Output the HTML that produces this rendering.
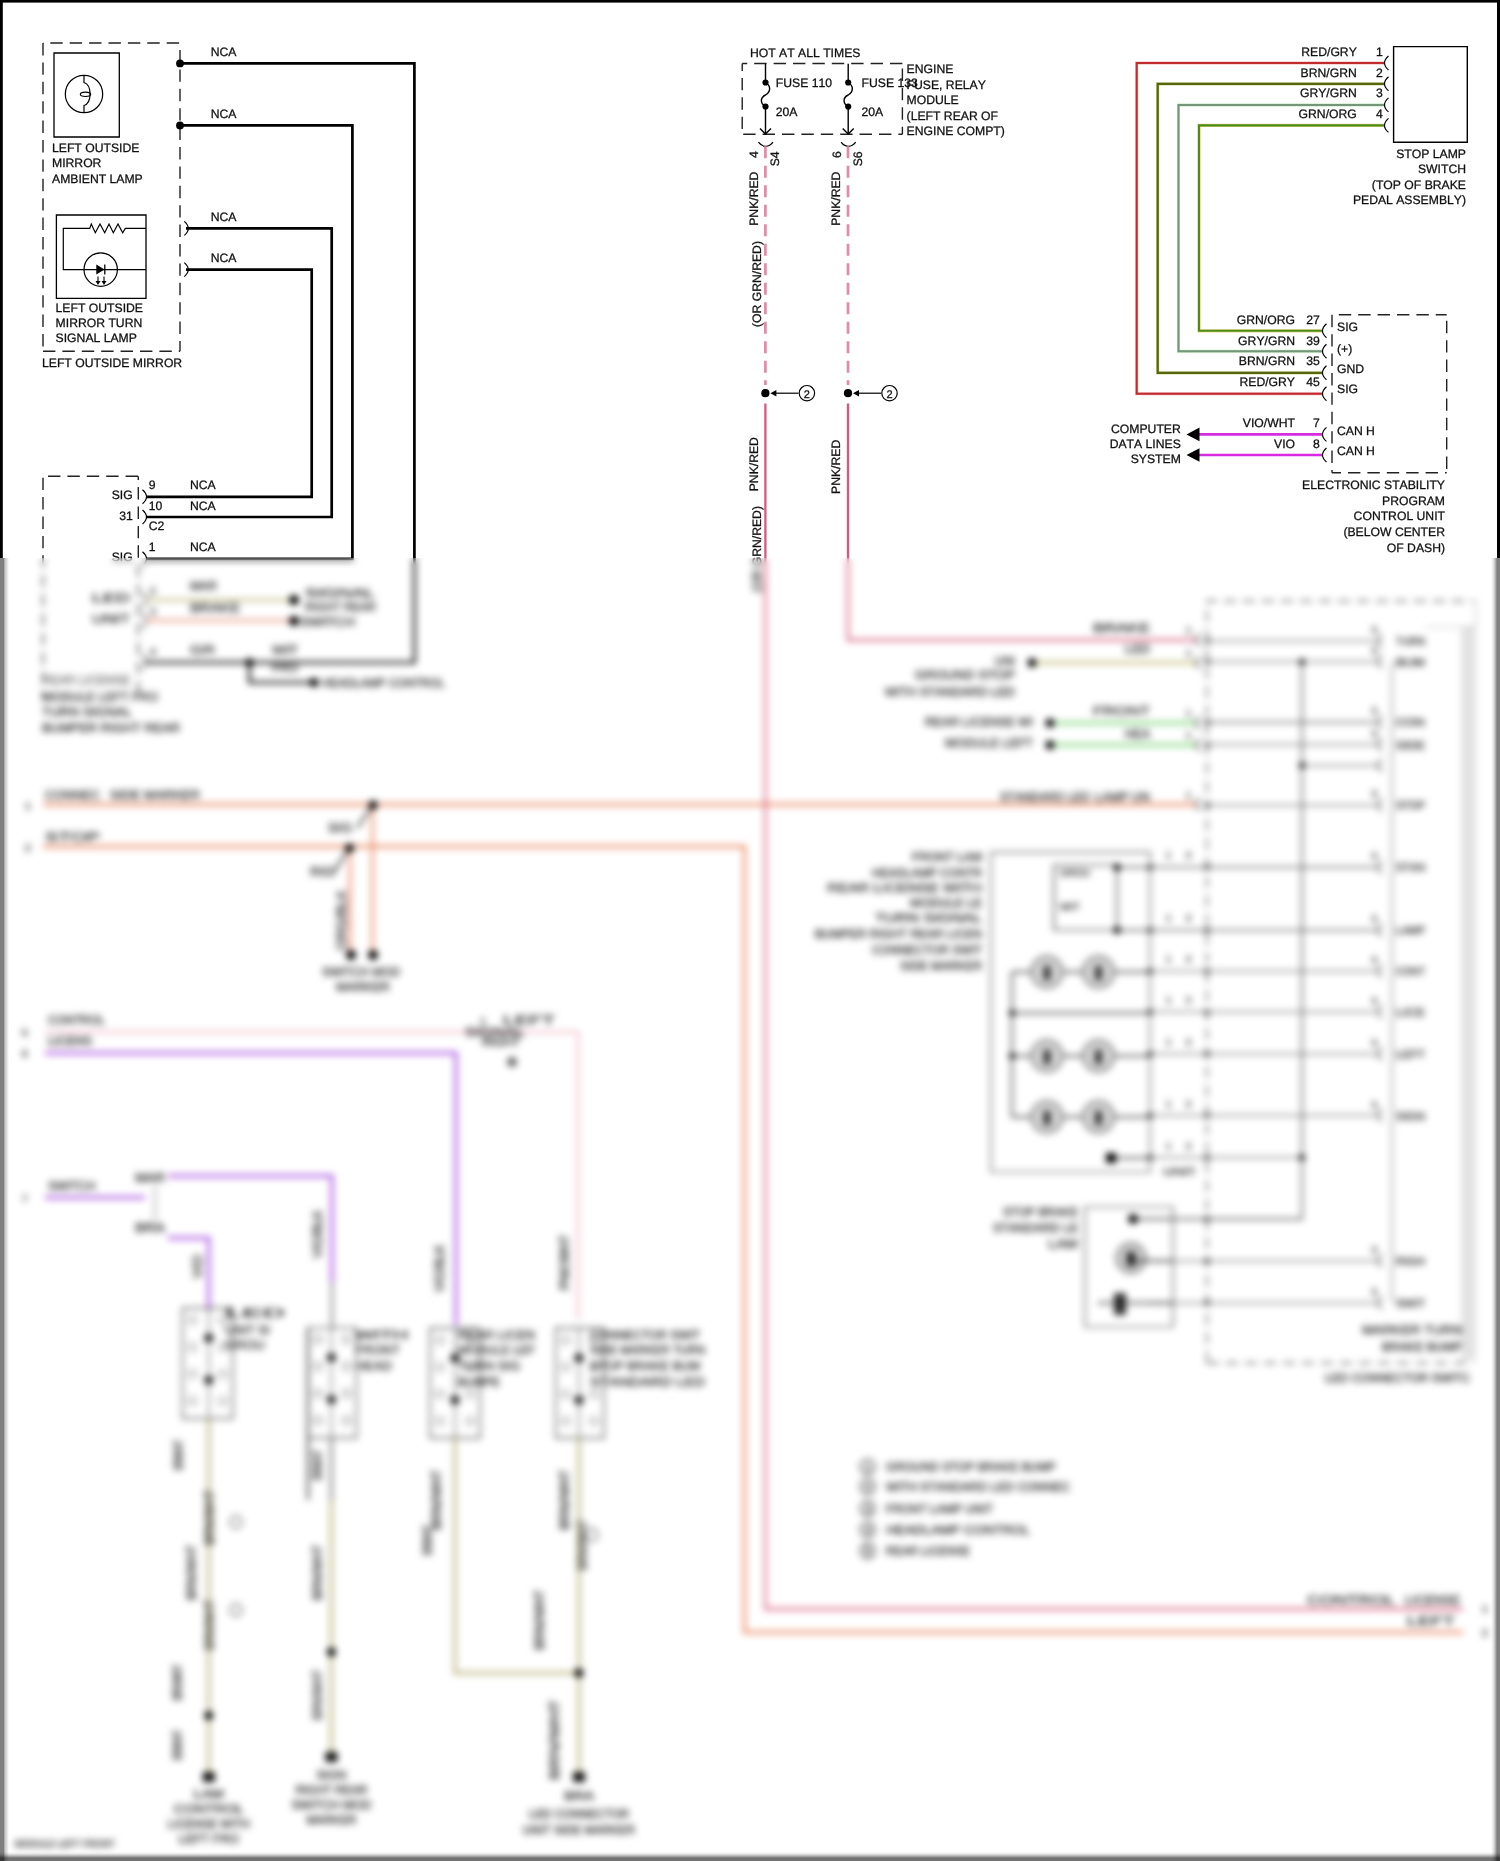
<!DOCTYPE html><html><head><meta charset="utf-8"><style>html,body{margin:0;padding:0;background:#fff;width:1500px;height:1861px;overflow:hidden}svg{position:absolute;left:0;top:0;will-change:transform}text{font-family:"Liberation Sans",sans-serif;font-kerning:none;text-rendering:geometricPrecision;stroke:#111;stroke-width:0.28px}#blur{position:absolute;left:0;top:558px;width:1500px;height:1303px;backdrop-filter:blur(3.5px);-webkit-backdrop-filter:blur(3.5px)}</style></head><body>
<svg width="1500" height="1861" viewBox="0 0 1500 1861">
<rect width="1500" height="1861" fill="#fff"/>
<path d="M43,43 L43,351.3" stroke="#222" stroke-width="1.4" fill="none" stroke-dasharray="12.4 7.0" stroke-dashoffset="0.0"/>
<path d="M43,43 L180,43" stroke="#222" stroke-width="1.4" fill="none" stroke-dasharray="12.4 7.0" stroke-dashoffset="12.1"/>
<path d="M180,43 L180,351.3" stroke="#222" stroke-width="1.4" fill="none" stroke-dasharray="12.4 7.0" stroke-dashoffset="12.4"/>
<path d="M43,351.3 L180,351.3" stroke="#222" stroke-width="1.4" fill="none" stroke-dasharray="12.4 7.0" stroke-dashoffset="0.0"/>
<path d="M54,53 H119.3 V137 H54 Z" stroke="#000" stroke-width="1.3" fill="none" />
<circle cx="84" cy="94" r="18.7" stroke="#000" stroke-width="1.2" fill="none"/>
<path d="M84,75.3 V82.5 C92,85 92,103 84,105.5 V112.7" stroke="#000" stroke-width="1.2" fill="none" />
<ellipse cx="85.5" cy="94.3" rx="5.2" ry="2.2" stroke="#000" stroke-width="1.1" fill="none"/>
<text x="52" y="152.0" text-anchor="start" font-size="12.2" fill="#111" >LEFT OUTSIDE</text>
<text x="52" y="167.35" text-anchor="start" font-size="12.2" fill="#111" >MIRROR</text>
<text x="52" y="182.7" text-anchor="start" font-size="12.2" fill="#111" >AMBIENT LAMP</text>
<path d="M56.4,215 H146 V298.4 H56.4 Z" stroke="#000" stroke-width="1.3" fill="none" />
<path d="M146,228.4 H125.3 L122.7,232.7 L118,224 L113.3,232.7 L109,224 L104.7,232.7 L100,224 L95.3,232.7 L91.3,224 L89.7,228.4 H63.3 V269.6 H146" stroke="#000" stroke-width="1.2" fill="none" />
<circle cx="100.7" cy="269.6" r="16.7" stroke="#000" stroke-width="1.2" fill="none"/>
<path d="M96.3,264.6 V274.6 L104.5,269.6 Z" fill="#000"/>
<path d="M104.8,264.6 V274.6" stroke="#000" stroke-width="1.3" fill="none" />
<path d="M98,276.5 V282" stroke="#000" stroke-width="1.1" fill="none" />
<path d="M95.5,281 H100.5 L98,285 Z" fill="#000"/>
<path d="M104,276.5 V282" stroke="#000" stroke-width="1.1" fill="none" />
<path d="M101.5,281 H106.5 L104,285 Z" fill="#000"/>
<text x="55.6" y="311.6" text-anchor="start" font-size="12.2" fill="#111" >LEFT OUTSIDE</text>
<text x="55.6" y="326.95" text-anchor="start" font-size="12.2" fill="#111" >MIRROR TURN</text>
<text x="55.6" y="342.3" text-anchor="start" font-size="12.2" fill="#111" >SIGNAL LAMP</text>
<text x="42" y="367.3" text-anchor="start" font-size="12.2" fill="#111" >LEFT OUTSIDE MIRROR</text>
<circle cx="180" cy="63.4" r="3.9" fill="#000"/>
<circle cx="180" cy="125.4" r="3.9" fill="#000"/>
<path d="M184.3,221.4 Q192.3,228.4 184.3,235.4" stroke="#000" stroke-width="1.15" fill="none" />
<path d="M184.3,262.6 Q192.3,269.6 184.3,276.6" stroke="#000" stroke-width="1.15" fill="none" />
<text x="210.7" y="56" text-anchor="start" font-size="12.2" fill="#111" >NCA</text>
<text x="210.7" y="118" text-anchor="start" font-size="12.2" fill="#111" >NCA</text>
<text x="210.7" y="221" text-anchor="start" font-size="12.2" fill="#111" >NCA</text>
<text x="210.7" y="262" text-anchor="start" font-size="12.2" fill="#111" >NCA</text>
<path d="M180,63.4 H414.4 V662.5 H146" stroke="#000" stroke-width="2.7" fill="none" />
<path d="M180,125.4 H352.4 V558.8 H146" stroke="#000" stroke-width="2.7" fill="none" />
<path d="M186,228.4 H331.7 V517 H146" stroke="#000" stroke-width="2.7" fill="none" />
<path d="M186,269.6 H311.7 V496.8 H146" stroke="#000" stroke-width="2.7" fill="none" />
<path d="M43,476.3 L43,700" stroke="#222" stroke-width="1.4" fill="none" stroke-dasharray="12.4 7.0" stroke-dashoffset="18.0"/>
<path d="M43,476.3 L138.3,476.3" stroke="#222" stroke-width="1.4" fill="none" stroke-dasharray="12.4 7.0" stroke-dashoffset="14.4"/>
<path d="M138.3,476.3 L138.3,700" stroke="#222" stroke-width="1.4" fill="none" stroke-dasharray="12.4 7.0" stroke-dashoffset="8.6"/>
<path d="M142.5,489.8 Q150.5,496.8 142.5,503.8" stroke="#000" stroke-width="1.15" fill="none" />
<path d="M142.5,510.0 Q150.5,517 142.5,524.0" stroke="#000" stroke-width="1.15" fill="none" />
<path d="M142.5,551.8 Q150.5,558.8 142.5,565.8" stroke="#000" stroke-width="1.15" fill="none" />
<text x="132.7" y="499" text-anchor="end" font-size="12.2" fill="#111" >SIG</text>
<text x="132.7" y="519.7" text-anchor="end" font-size="12.2" fill="#111" >31</text>
<text x="132.7" y="561" text-anchor="end" font-size="12.2" fill="#111" >SIG</text>
<text x="148.7" y="489" text-anchor="start" font-size="12.2" fill="#111" >9</text>
<text x="190" y="489" text-anchor="start" font-size="12.2" fill="#111" >NCA</text>
<text x="148.7" y="509.7" text-anchor="start" font-size="12.2" fill="#111" >10</text>
<text x="190" y="509.7" text-anchor="start" font-size="12.2" fill="#111" >NCA</text>
<text x="148.7" y="530.3" text-anchor="start" font-size="12.2" fill="#111" >C2</text>
<text x="148.7" y="551.4" text-anchor="start" font-size="12.2" fill="#111" >1</text>
<text x="190" y="551.4" text-anchor="start" font-size="12.2" fill="#111" >NCA</text>
<text x="750" y="56.5" text-anchor="start" font-size="12.2" fill="#111" >HOT AT ALL TIMES</text>
<path d="M742.2,63.5 L742.2,134.3" stroke="#222" stroke-width="1.4" fill="none" stroke-dasharray="12.4 7.0" stroke-dashoffset="5.0"/>
<path d="M742.2,63.5 L902.4,63.5" stroke="#222" stroke-width="1.4" fill="none" stroke-dasharray="12.4 7.0" stroke-dashoffset="7.4"/>
<path d="M742.2,134.3 L902.4,134.3" stroke="#222" stroke-width="1.4" fill="none" stroke-dasharray="12.4 7.0" stroke-dashoffset="18.4"/>
<path d="M902.4,63.5 L902.4,134.3" stroke="#222" stroke-width="1.4" fill="none" stroke-dasharray="12.4 7.0" stroke-dashoffset="14.4"/>
<path d="M765.5,63.7 V82.5 C771.5,86 770.5,92 765.5,95 C759.5,98 760.5,104 765.5,106.5 V134" stroke="#000" stroke-width="1.4" fill="none" />
<circle cx="765.5" cy="82.5" r="3.1" fill="#000"/>
<circle cx="765.5" cy="106.5" r="3.1" fill="#000"/>
<path d="M760.0,128.5 L765.5,134 L771.0,128.5" stroke="#000" stroke-width="1.4" fill="none" />
<path d="M758.5,142.2 Q761.5,146.5 765.5,146.3 Q769.5,146.5 773.0,142.2" stroke="#000" stroke-width="1.3" fill="none" />
<path d="M848.2,63.7 V82.5 C854.2,86 853.2,92 848.2,95 C842.2,98 843.2,104 848.2,106.5 V134" stroke="#000" stroke-width="1.4" fill="none" />
<circle cx="848.2" cy="82.5" r="3.1" fill="#000"/>
<circle cx="848.2" cy="106.5" r="3.1" fill="#000"/>
<path d="M842.7,128.5 L848.2,134 L853.7,128.5" stroke="#000" stroke-width="1.4" fill="none" />
<path d="M841.2,142.2 Q844.2,146.5 848.2,146.3 Q852.2,146.5 855.7,142.2" stroke="#000" stroke-width="1.3" fill="none" />
<text x="775.8" y="86.5" text-anchor="start" font-size="12.2" fill="#111" >FUSE 110</text>
<text x="775.8" y="115.7" text-anchor="start" font-size="12.2" fill="#111" >20A</text>
<text x="861.5" y="87.2" text-anchor="start" font-size="12.2" fill="#111" >FUSE 133</text>
<text x="861.5" y="115.7" text-anchor="start" font-size="12.2" fill="#111" >20A</text>
<text x="906.6" y="73.4" text-anchor="start" font-size="12.2" fill="#111" >ENGINE</text>
<text x="906.6" y="88.92" text-anchor="start" font-size="12.2" fill="#111" >FUSE, RELAY</text>
<text x="906.6" y="104.44" text-anchor="start" font-size="12.2" fill="#111" >MODULE</text>
<text x="906.6" y="119.96" text-anchor="start" font-size="12.2" fill="#111" >(LEFT REAR OF</text>
<text x="906.6" y="135.48" text-anchor="start" font-size="12.2" fill="#111" >ENGINE COMPT)</text>
<text transform="translate(757.8,158) rotate(-90)" text-anchor="start" font-size="12.2" fill="#111">4</text>
<text transform="translate(779.4,166.3) rotate(-90)" text-anchor="start" font-size="12.2" fill="#111">S4</text>
<text transform="translate(840.8,158) rotate(-90)" text-anchor="start" font-size="12.2" fill="#111">6</text>
<text transform="translate(861.8,166.3) rotate(-90)" text-anchor="start" font-size="12.2" fill="#111">S6</text>
<path d="M765.4,146.2 V385" stroke="#e28aa6" stroke-width="2.7" fill="none" stroke-dasharray="12.1 7.4"/>
<circle cx="765.4" cy="393.2" r="4.1" fill="#000"/>
<path d="M798.4,393.2 H772.4" stroke="#000" stroke-width="1.2" fill="none" />
<path d="M770.4,393.2 L776.4,390 L776.4,396.4 Z" fill="#000"/>
<circle cx="806.9" cy="393.2" r="7.7" stroke="#000" stroke-width="1.2" fill="none"/>
<text x="806.9" y="397.6" text-anchor="middle" font-size="11" fill="#111" >2</text>
<path d="M848,146.2 V385" stroke="#e28aa6" stroke-width="2.7" fill="none" stroke-dasharray="12.1 7.4"/>
<circle cx="848" cy="393.2" r="4.1" fill="#000"/>
<path d="M881,393.2 H855" stroke="#000" stroke-width="1.2" fill="none" />
<path d="M853,393.2 L859,390 L859,396.4 Z" fill="#000"/>
<circle cx="889.5" cy="393.2" r="7.7" stroke="#000" stroke-width="1.2" fill="none"/>
<text x="889.5" y="397.6" text-anchor="middle" font-size="11" fill="#111" >2</text>
<text transform="translate(758.2,225.8) rotate(-90)" text-anchor="start" font-size="12.2" fill="#111">PNK/RED</text>
<text transform="translate(761.2,327) rotate(-90)" text-anchor="start" font-size="12.2" fill="#111">(OR GRN/RED)</text>
<text transform="translate(758.2,491.3) rotate(-90)" text-anchor="start" font-size="12.2" fill="#111">PNK/RED</text>
<text transform="translate(761.2,592) rotate(-90)" text-anchor="start" font-size="12.2" fill="#111">(OR GRN/RED)</text>
<text transform="translate(839.7,225.8) rotate(-90)" text-anchor="start" font-size="12.2" fill="#111">PNK/RED</text>
<text transform="translate(839.7,494) rotate(-90)" text-anchor="start" font-size="12.2" fill="#111">PNK/RED</text>
<path d="M1393.6,46.6 H1467.3 V142.3 H1393.6 Z" stroke="#000" stroke-width="1.4" fill="none" />
<path d="M1385,63 H1136.7 V393.8 H1322" stroke="#f2b0b0" stroke-width="3.0" fill="none" />
<path d="M1385,63 H1136.7 V393.8 H1322" stroke="#c02c2e" stroke-width="2.0" fill="none" />
<path d="M1385,83.8 H1157.7 V372.8 H1322" stroke="#d2d898" stroke-width="3.2" fill="none" />
<path d="M1385,83.8 H1157.7 V372.8 H1322" stroke="#56660e" stroke-width="2.2" fill="none" />
<path d="M1385,104.9 H1178.5 V351.2 H1322" stroke="#bfe8b8" stroke-width="3.0" fill="none" />
<path d="M1385,104.9 H1178.5 V351.2 H1322" stroke="#74957a" stroke-width="2.0" fill="none" />
<path d="M1385,125.4 H1199 V330.8 H1322" stroke="#ecd890" stroke-width="3.2" fill="none" />
<path d="M1385,125.4 H1199 V330.8 H1322" stroke="#4c8c14" stroke-width="2.1" fill="none" />
<path d="M1388.5,56.0 Q1380.5,63 1388.5,70.0" stroke="#000" stroke-width="1.15" fill="none" />
<path d="M1388.5,76.8 Q1380.5,83.8 1388.5,90.8" stroke="#000" stroke-width="1.15" fill="none" />
<path d="M1388.5,97.9 Q1380.5,104.9 1388.5,111.9" stroke="#000" stroke-width="1.15" fill="none" />
<path d="M1388.5,118.4 Q1380.5,125.4 1388.5,132.4" stroke="#000" stroke-width="1.15" fill="none" />
<text x="1356.8" y="56.3" text-anchor="end" font-size="12.2" fill="#111" >RED/GRY</text>
<text x="1382.7" y="56.3" text-anchor="end" font-size="12.2" fill="#111" >1</text>
<text x="1356.8" y="76.6" text-anchor="end" font-size="12.2" fill="#111" >BRN/GRN</text>
<text x="1382.7" y="76.6" text-anchor="end" font-size="12.2" fill="#111" >2</text>
<text x="1356.8" y="97" text-anchor="end" font-size="12.2" fill="#111" >GRY/GRN</text>
<text x="1382.7" y="97" text-anchor="end" font-size="12.2" fill="#111" >3</text>
<text x="1356.8" y="117.7" text-anchor="end" font-size="12.2" fill="#111" >GRN/ORG</text>
<text x="1382.7" y="117.7" text-anchor="end" font-size="12.2" fill="#111" >4</text>
<text x="1466" y="157.5" text-anchor="end" font-size="12.2" fill="#111" >STOP LAMP</text>
<text x="1466" y="173.1" text-anchor="end" font-size="12.2" fill="#111" >SWITCH</text>
<text x="1466" y="188.7" text-anchor="end" font-size="12.2" fill="#111" >(TOP OF BRAKE</text>
<text x="1466" y="204.3" text-anchor="end" font-size="12.2" fill="#111" >PEDAL ASSEMBLY)</text>
<path d="M1332,314.8 L1332,472.8" stroke="#222" stroke-width="1.4" fill="none" stroke-dasharray="12.4 7.0" stroke-dashoffset="0.0"/>
<path d="M1332,314.8 L1446.7,314.8" stroke="#222" stroke-width="1.4" fill="none" stroke-dasharray="12.4 7.0" stroke-dashoffset="12.6"/>
<path d="M1446.7,314.8 L1446.7,472.8" stroke="#222" stroke-width="1.4" fill="none" stroke-dasharray="12.4 7.0" stroke-dashoffset="13.4"/>
<path d="M1332,472.8 L1446.7,472.8" stroke="#222" stroke-width="1.4" fill="none" stroke-dasharray="12.4 7.0" stroke-dashoffset="3.4"/>
<path d="M1199,434.4 H1322" stroke="#d82ae0" stroke-width="2.6" fill="none" />
<path d="M1199,455 H1322" stroke="#d82ae0" stroke-width="2.6" fill="none" />
<path d="M1186.5,434.4 L1199.5,427.6 L1199.5,441.2 Z" fill="#000"/>
<path d="M1186.5,455 L1199.5,448.2 L1199.5,461.8 Z" fill="#000"/>
<path d="M1326.5,323.8 Q1318.5,330.8 1326.5,337.8" stroke="#000" stroke-width="1.15" fill="none" />
<path d="M1326.5,344.2 Q1318.5,351.2 1326.5,358.2" stroke="#000" stroke-width="1.15" fill="none" />
<path d="M1326.5,365.8 Q1318.5,372.8 1326.5,379.8" stroke="#000" stroke-width="1.15" fill="none" />
<path d="M1326.5,386.8 Q1318.5,393.8 1326.5,400.8" stroke="#000" stroke-width="1.15" fill="none" />
<path d="M1326.5,427.4 Q1318.5,434.4 1326.5,441.4" stroke="#000" stroke-width="1.15" fill="none" />
<path d="M1326.5,448.0 Q1318.5,455 1326.5,462.0" stroke="#000" stroke-width="1.15" fill="none" />
<text x="1295" y="324.2" text-anchor="end" font-size="12.2" fill="#111" >GRN/ORG</text>
<text x="1319.8" y="324.2" text-anchor="end" font-size="12.2" fill="#111" >27</text>
<text x="1295" y="344.6" text-anchor="end" font-size="12.2" fill="#111" >GRY/GRN</text>
<text x="1319.8" y="344.6" text-anchor="end" font-size="12.2" fill="#111" >39</text>
<text x="1295" y="365" text-anchor="end" font-size="12.2" fill="#111" >BRN/GRN</text>
<text x="1319.8" y="365" text-anchor="end" font-size="12.2" fill="#111" >35</text>
<text x="1295" y="386" text-anchor="end" font-size="12.2" fill="#111" >RED/GRY</text>
<text x="1319.8" y="386" text-anchor="end" font-size="12.2" fill="#111" >45</text>
<text x="1295" y="427.4" text-anchor="end" font-size="12.2" fill="#111" >VIO/WHT</text>
<text x="1319.8" y="427.4" text-anchor="end" font-size="12.2" fill="#111" >7</text>
<text x="1295" y="447.9" text-anchor="end" font-size="12.2" fill="#111" >VIO</text>
<text x="1319.8" y="447.9" text-anchor="end" font-size="12.2" fill="#111" >8</text>
<text x="1337" y="330.8" text-anchor="start" font-size="12.2" fill="#111" >SIG</text>
<text x="1337" y="353.2" text-anchor="start" font-size="12.2" fill="#111" >(+)</text>
<text x="1337" y="372.8" text-anchor="start" font-size="12.2" fill="#111" >GND</text>
<text x="1337" y="393.2" text-anchor="start" font-size="12.2" fill="#111" >SIG</text>
<text x="1337" y="434.6" text-anchor="start" font-size="12.2" fill="#111" >CAN H</text>
<text x="1337" y="455" text-anchor="start" font-size="12.2" fill="#111" >CAN H</text>
<text x="1180.8" y="432.5" text-anchor="end" font-size="12.2" fill="#111" >COMPUTER</text>
<text x="1180.8" y="447.9" text-anchor="end" font-size="12.2" fill="#111" >DATA LINES</text>
<text x="1180.8" y="463.3" text-anchor="end" font-size="12.2" fill="#111" >SYSTEM</text>
<text x="1445" y="489.3" text-anchor="end" font-size="12.2" fill="#111" >ELECTRONIC STABILITY</text>
<text x="1445" y="504.85" text-anchor="end" font-size="12.2" fill="#111" >PROGRAM</text>
<text x="1445" y="520.4" text-anchor="end" font-size="12.2" fill="#111" >CONTROL UNIT</text>
<text x="1445" y="535.95" text-anchor="end" font-size="12.2" fill="#111" >(BELOW CENTER</text>
<text x="1445" y="551.5" text-anchor="end" font-size="12.2" fill="#111" >OF DASH)</text>
<path d="M142.5,593.0 Q150.5,600 142.5,607.0" stroke="#000" stroke-width="1.15" fill="none" />
<path d="M142.5,613.5 Q150.5,620.5 142.5,627.5" stroke="#000" stroke-width="1.15" fill="none" />
<path d="M142.5,654.5 Q150.5,661.5 142.5,668.5" stroke="#000" stroke-width="1.15" fill="none" />
<path d="M146,600 H294" stroke="#c9c497" stroke-width="3.2" fill="none" />
<path d="M146,620.5 H294" stroke="#eaa592" stroke-width="3.2" fill="none" />
<circle cx="294" cy="600" r="5" fill="#000"/>
<circle cx="294" cy="621" r="5" fill="#000"/>
<text x="305" y="597" font-size="12.2" fill="#111" textLength="70" lengthAdjust="spacingAndGlyphs">SIGNAL</text>
<text x="305" y="611" font-size="12.2" fill="#111" textLength="71" lengthAdjust="spacingAndGlyphs">RIGHT REAR</text>
<text x="300" y="626" font-size="12.2" fill="#111" textLength="55" lengthAdjust="spacingAndGlyphs">SWITCH</text>
<text x="190" y="590" font-size="12.2" fill="#111" textLength="27" lengthAdjust="spacingAndGlyphs">MAR</text>
<text x="190" y="612" font-size="12.2" fill="#111" textLength="50" lengthAdjust="spacingAndGlyphs">BRAKE</text>
<text x="92" y="602" font-size="12.2" fill="#111" textLength="38" lengthAdjust="spacingAndGlyphs">LED</text>
<text x="92" y="623" font-size="12.2" fill="#111" textLength="38" lengthAdjust="spacingAndGlyphs">UNIT</text>
<text x="150" y="594" text-anchor="start" font-size="10" fill="#111" >2</text>
<text x="150" y="615" text-anchor="start" font-size="10" fill="#111" >3</text>
<text x="150" y="655" text-anchor="start" font-size="10" fill="#111" >4</text>
<text x="190" y="654" font-size="12.2" fill="#111" textLength="25" lengthAdjust="spacingAndGlyphs">GR</text>
<text x="272" y="654" font-size="12.2" fill="#111" textLength="26" lengthAdjust="spacingAndGlyphs">WIT</text>
<text x="272" y="672" font-size="12.2" fill="#111" textLength="26" lengthAdjust="spacingAndGlyphs">FRO</text>
<circle cx="249.5" cy="662.5" r="4.2" fill="#000"/>
<path d="M249.5,662.5 V682.5 H314" stroke="#000" stroke-width="2.7" fill="none" />
<circle cx="314" cy="682.5" r="4.5" fill="#000"/>
<text x="322" y="687" font-size="12.2" fill="#111" textLength="123" lengthAdjust="spacingAndGlyphs">HEADLAMP CONTROL</text>
<text x="42" y="684" font-size="12.2" fill="#999" textLength="88" lengthAdjust="spacingAndGlyphs">REAR LICENSE</text>
<text x="42" y="700.5" font-size="12.2" fill="#111" textLength="116" lengthAdjust="spacingAndGlyphs">MODULE LEFT FRO</text>
<text x="42" y="716" font-size="12.2" fill="#111" textLength="90" lengthAdjust="spacingAndGlyphs">TURN SIGNAL</text>
<text x="42" y="731.5" font-size="12.2" fill="#111" textLength="138" lengthAdjust="spacingAndGlyphs">BUMPER RIGHT REAR</text>
<path d="M43,804.5 H1196" stroke="#ea8a64" stroke-width="3" fill="none" />
<path d="M43,846.6 H744.5 V1632.3 H1463" stroke="#ea8a64" stroke-width="3" fill="none" />
<text x="45" y="799" font-size="12.2" fill="#111" textLength="55" lengthAdjust="spacingAndGlyphs">CONNEC</text>
<text x="110" y="799" font-size="12.2" fill="#111" textLength="90" lengthAdjust="spacingAndGlyphs">SIDE MARKER</text>
<text x="25" y="809" text-anchor="start" font-size="10" fill="#111" >1</text>
<text x="45" y="841" font-size="12.2" fill="#111" textLength="55" lengthAdjust="spacingAndGlyphs">STOP</text>
<text x="25" y="851" text-anchor="start" font-size="10" fill="#111" >2</text>
<text x="1000" y="801" font-size="12.2" fill="#111" textLength="90" lengthAdjust="spacingAndGlyphs">STANDARD LED</text>
<text x="1095" y="801" font-size="12.2" fill="#111" textLength="55" lengthAdjust="spacingAndGlyphs">LAMP UN</text>
<path d="M765.4,403.6 V1609 H1463" stroke="#d65a7c" stroke-width="2.3" fill="none"/>
<text x="1307" y="1604" font-size="12.2" fill="#111" textLength="88" lengthAdjust="spacingAndGlyphs">CONTROL</text>
<text x="1405" y="1604" font-size="12.2" fill="#111" textLength="55" lengthAdjust="spacingAndGlyphs">LICENSE</text>
<text x="1407" y="1625" font-size="12.2" fill="#111" textLength="48" lengthAdjust="spacingAndGlyphs">LEFT</text>
<text x="1482" y="1612" text-anchor="start" font-size="10" fill="#111" >1</text>
<text x="1482" y="1636" text-anchor="start" font-size="10" fill="#111" >2</text>
<path d="M372.5,805 V955" stroke="#ea8a64" stroke-width="2.6" fill="none" />
<path d="M350,848 V955" stroke="#ea8a64" stroke-width="2.6" fill="none" />
<circle cx="373" cy="805" r="4.5" fill="#000"/>
<circle cx="349.5" cy="848" r="4.5" fill="#000"/>
<path d="M373,805 L357,828" stroke="#000" stroke-width="1.6" fill="none" />
<path d="M349,848 L334,872" stroke="#000" stroke-width="1.6" fill="none" />
<text x="328" y="832" font-size="13" fill="#111" textLength="24" lengthAdjust="spacingAndGlyphs">SIG</text>
<text x="310" y="876" font-size="13" fill="#111" textLength="25" lengthAdjust="spacingAndGlyphs">RIG</text>
<text transform="translate(346,950) rotate(-90)" font-size="13.5" fill="#111" textLength="60" lengthAdjust="spacingAndGlyphs">ORG/BLK</text>
<circle cx="351" cy="955" r="5" fill="#000"/>
<circle cx="373" cy="955" r="5" fill="#000"/>
<text x="322" y="976" font-size="12.2" fill="#111" textLength="78" lengthAdjust="spacingAndGlyphs">SWITCH MOD</text>
<text x="336" y="991" font-size="12.2" fill="#111" textLength="54" lengthAdjust="spacingAndGlyphs">MARKER</text>
<path d="M848,403.6 V640 H1196" stroke="#d65a7c" stroke-width="2.4" fill="none"/>
<text x="1093" y="632" font-size="12.2" fill="#111" textLength="57" lengthAdjust="spacingAndGlyphs">BRAKE</text>
<text x="1125" y="653" font-size="12.2" fill="#111" textLength="25" lengthAdjust="spacingAndGlyphs">LED</text>
<path d="M1032,662.8 H1196" stroke="#c6c080" stroke-width="3" fill="none" />
<circle cx="1032" cy="662.8" r="4.5" fill="#000"/>
<text x="995" y="665" font-size="12.2" fill="#111" textLength="20" lengthAdjust="spacingAndGlyphs">UNI</text>
<text x="915" y="679" font-size="12.2" fill="#111" textLength="100" lengthAdjust="spacingAndGlyphs">GROUND STOP</text>
<text x="885" y="696" font-size="12.2" fill="#111" textLength="130" lengthAdjust="spacingAndGlyphs">WITH STANDARD LED</text>
<path d="M1050,723 H1196" stroke="#7fd67a" stroke-width="3" fill="none" />
<path d="M1050,745 H1196" stroke="#7fd67a" stroke-width="3" fill="none" />
<circle cx="1050" cy="723" r="4.5" fill="#000"/>
<circle cx="1050" cy="745" r="4.5" fill="#000"/>
<text x="1093" y="715" font-size="12.2" fill="#111" textLength="57" lengthAdjust="spacingAndGlyphs">FRONT</text>
<text x="1125" y="738" font-size="12.2" fill="#111" textLength="25" lengthAdjust="spacingAndGlyphs">HEA</text>
<text x="925" y="726" font-size="12.2" fill="#111" textLength="108" lengthAdjust="spacingAndGlyphs">REAR LICENSE WI</text>
<text x="945" y="747" font-size="12.2" fill="#111" textLength="88" lengthAdjust="spacingAndGlyphs">MODULE LEFT</text>
<path d="M1200,634.0 Q1192,640 1200,646.0" stroke="#000" stroke-width="1.15" fill="none" />
<text x="1186" y="633" text-anchor="start" font-size="9" fill="#111" >1</text>
<path d="M1200,656.8 Q1192,662.8 1200,668.8" stroke="#000" stroke-width="1.15" fill="none" />
<text x="1186" y="655.8" text-anchor="start" font-size="9" fill="#111" >1</text>
<path d="M1200,717.0 Q1192,723 1200,729.0" stroke="#000" stroke-width="1.15" fill="none" />
<text x="1186" y="716" text-anchor="start" font-size="9" fill="#111" >1</text>
<path d="M1200,739.0 Q1192,745 1200,751.0" stroke="#000" stroke-width="1.15" fill="none" />
<text x="1186" y="738" text-anchor="start" font-size="9" fill="#111" >1</text>
<path d="M1200,798.5 Q1192,804.5 1200,810.5" stroke="#000" stroke-width="1.15" fill="none" />
<text x="1186" y="797.5" text-anchor="start" font-size="9" fill="#111" >1</text>
<path d="M1207,1363 V601 H1474" stroke="#444" stroke-width="1.3" fill="none" stroke-dasharray="12 7" stroke-dashoffset="0"/>
<path d="M1207,1363 H1474" stroke="#444" stroke-width="1.3" fill="none" stroke-dasharray="12 7" stroke-dashoffset="0"/>
<rect x="1204" y="638" width="6" height="6" fill="#888"/>
<rect x="1204" y="658.7" width="6" height="6" fill="#888"/>
<rect x="1204" y="719.3" width="6" height="6" fill="#888"/>
<rect x="1204" y="741.5" width="6" height="6" fill="#888"/>
<rect x="1204" y="802.2" width="6" height="6" fill="#888"/>
<rect x="1204" y="864.3" width="6" height="6" fill="#888"/>
<rect x="1204" y="927.3" width="6" height="6" fill="#888"/>
<rect x="1204" y="968.2" width="6" height="6" fill="#888"/>
<rect x="1204" y="1009" width="6" height="6" fill="#888"/>
<rect x="1204" y="1051" width="6" height="6" fill="#888"/>
<rect x="1204" y="1112.5" width="6" height="6" fill="#888"/>
<rect x="1204" y="1154.5" width="6" height="6" fill="#888"/>
<rect x="1204" y="1216" width="6" height="6" fill="#888"/>
<rect x="1204" y="1258" width="6" height="6" fill="#888"/>
<rect x="1204" y="1300" width="6" height="6" fill="#888"/>
<path d="M1207,641 H1378" stroke="#222" stroke-width="1.15" fill="none" />
<path d="M1382,635.0 Q1374,641 1382,647.0" stroke="#000" stroke-width="1.15" fill="none" />
<text x="1396" y="645" font-size="11" fill="#111" textLength="29" lengthAdjust="spacingAndGlyphs">TURN</text>
<text x="1372" y="633" text-anchor="start" font-size="9" fill="#111" >5</text>
<path d="M1207,661.7 H1378" stroke="#222" stroke-width="1.15" fill="none" />
<path d="M1382,655.7 Q1374,661.7 1382,667.7" stroke="#000" stroke-width="1.15" fill="none" />
<text x="1396" y="665.7" font-size="11" fill="#111" textLength="29" lengthAdjust="spacingAndGlyphs">BUM</text>
<text x="1372" y="653.7" text-anchor="start" font-size="9" fill="#111" >5</text>
<path d="M1207,722.3 H1378" stroke="#222" stroke-width="1.15" fill="none" />
<path d="M1382,716.3 Q1374,722.3 1382,728.3" stroke="#000" stroke-width="1.15" fill="none" />
<text x="1396" y="726.3" font-size="11" fill="#111" textLength="29" lengthAdjust="spacingAndGlyphs">CON</text>
<text x="1372" y="714.3" text-anchor="start" font-size="9" fill="#111" >5</text>
<path d="M1207,744.5 H1378" stroke="#222" stroke-width="1.15" fill="none" />
<path d="M1382,738.5 Q1374,744.5 1382,750.5" stroke="#000" stroke-width="1.15" fill="none" />
<text x="1396" y="748.5" font-size="11" fill="#111" textLength="29" lengthAdjust="spacingAndGlyphs">SIDE</text>
<text x="1372" y="736.5" text-anchor="start" font-size="9" fill="#111" >5</text>
<path d="M1207,805.2 H1378" stroke="#222" stroke-width="1.15" fill="none" />
<path d="M1382,799.2 Q1374,805.2 1382,811.2" stroke="#000" stroke-width="1.15" fill="none" />
<text x="1396" y="809.2" font-size="11" fill="#111" textLength="29" lengthAdjust="spacingAndGlyphs">STOP</text>
<text x="1372" y="797.2" text-anchor="start" font-size="9" fill="#111" >5</text>
<path d="M1150,867.3 H1378" stroke="#222" stroke-width="1.15" fill="none" />
<path d="M1382,861.3 Q1374,867.3 1382,873.3" stroke="#000" stroke-width="1.15" fill="none" />
<text x="1396" y="871.3" font-size="11" fill="#111" textLength="29" lengthAdjust="spacingAndGlyphs">STAN</text>
<text x="1372" y="859.3" text-anchor="start" font-size="9" fill="#111" >5</text>
<path d="M1150,930.3 H1378" stroke="#222" stroke-width="1.15" fill="none" />
<path d="M1382,924.3 Q1374,930.3 1382,936.3" stroke="#000" stroke-width="1.15" fill="none" />
<text x="1396" y="934.3" font-size="11" fill="#111" textLength="29" lengthAdjust="spacingAndGlyphs">LAMP</text>
<text x="1372" y="922.3" text-anchor="start" font-size="9" fill="#111" >5</text>
<path d="M1150,971.2 H1378" stroke="#222" stroke-width="1.15" fill="none" />
<path d="M1382,965.2 Q1374,971.2 1382,977.2" stroke="#000" stroke-width="1.15" fill="none" />
<text x="1396" y="975.2" font-size="11" fill="#111" textLength="29" lengthAdjust="spacingAndGlyphs">CONT</text>
<text x="1372" y="963.2" text-anchor="start" font-size="9" fill="#111" >5</text>
<path d="M1150,1012 H1378" stroke="#222" stroke-width="1.15" fill="none" />
<path d="M1382,1006.0 Q1374,1012 1382,1018.0" stroke="#000" stroke-width="1.15" fill="none" />
<text x="1396" y="1016" font-size="11" fill="#111" textLength="29" lengthAdjust="spacingAndGlyphs">LICE</text>
<text x="1372" y="1004" text-anchor="start" font-size="9" fill="#111" >5</text>
<path d="M1150,1054 H1378" stroke="#222" stroke-width="1.15" fill="none" />
<path d="M1382,1048.0 Q1374,1054 1382,1060.0" stroke="#000" stroke-width="1.15" fill="none" />
<text x="1396" y="1058" font-size="11" fill="#111" textLength="29" lengthAdjust="spacingAndGlyphs">LEFT</text>
<text x="1372" y="1046" text-anchor="start" font-size="9" fill="#111" >5</text>
<path d="M1150,1115.5 H1378" stroke="#222" stroke-width="1.15" fill="none" />
<path d="M1382,1109.5 Q1374,1115.5 1382,1121.5" stroke="#000" stroke-width="1.15" fill="none" />
<text x="1396" y="1119.5" font-size="11" fill="#111" textLength="29" lengthAdjust="spacingAndGlyphs">SIGN</text>
<text x="1372" y="1107.5" text-anchor="start" font-size="9" fill="#111" >5</text>
<path d="M1150,1261 H1378" stroke="#222" stroke-width="1.15" fill="none" />
<path d="M1382,1255.0 Q1374,1261 1382,1267.0" stroke="#000" stroke-width="1.15" fill="none" />
<text x="1396" y="1265" font-size="11" fill="#111" textLength="29" lengthAdjust="spacingAndGlyphs">RIGH</text>
<text x="1372" y="1253" text-anchor="start" font-size="9" fill="#111" >5</text>
<path d="M1150,1303 H1378" stroke="#222" stroke-width="1.15" fill="none" />
<path d="M1382,1297.0 Q1374,1303 1382,1309.0" stroke="#000" stroke-width="1.15" fill="none" />
<text x="1396" y="1307" font-size="11" fill="#111" textLength="29" lengthAdjust="spacingAndGlyphs">SWIT</text>
<text x="1372" y="1295" text-anchor="start" font-size="9" fill="#111" >5</text>
<path d="M1302,765.5 H1378" stroke="#222" stroke-width="1.15" fill="none" />
<path d="M1382,759.5 Q1374,765.5 1382,771.5" stroke="#000" stroke-width="1.15" fill="none" />
<path d="M1150,1157.5 H1302" stroke="#222" stroke-width="1.2" fill="none" />
<path d="M1173,1219 H1302 V661.7" stroke="#222" stroke-width="1.3" fill="none" />
<circle cx="1302" cy="661.7" r="3" fill="#000"/>
<circle cx="1302" cy="765.5" r="3" fill="#000"/>
<circle cx="1302" cy="1157.5" r="3" fill="#000"/>
<path d="M1392,661.7 V1303" stroke="#666" stroke-width="1.1" fill="none" />
<rect x="1461" y="627" width="15" height="733" fill="#e2e2e2"/>
<path d="M1425,627 H1476 V601" stroke="#bbb" stroke-width="1.2" fill="none" />
<text x="1362" y="1334" font-size="12.2" fill="#111" textLength="100" lengthAdjust="spacingAndGlyphs">MARKER TURN</text>
<text x="1382" y="1351" font-size="12.2" fill="#111" textLength="80" lengthAdjust="spacingAndGlyphs">BRAKE BUMP</text>
<text x="1325" y="1382" font-size="12.2" fill="#111" textLength="145" lengthAdjust="spacingAndGlyphs">LED CONNECTOR SWITC</text>
<text x="1166" y="858.3" text-anchor="start" font-size="9" fill="#111" >1</text>
<text x="1186" y="858.3" text-anchor="start" font-size="9" fill="#111" >2</text>
<circle cx="1150" cy="867.3" r="2.5" fill="#000"/>
<text x="1166" y="921.3" text-anchor="start" font-size="9" fill="#111" >1</text>
<text x="1186" y="921.3" text-anchor="start" font-size="9" fill="#111" >2</text>
<circle cx="1150" cy="930.3" r="2.5" fill="#000"/>
<text x="1166" y="962.2" text-anchor="start" font-size="9" fill="#111" >1</text>
<text x="1186" y="962.2" text-anchor="start" font-size="9" fill="#111" >2</text>
<circle cx="1150" cy="971.2" r="2.5" fill="#000"/>
<text x="1166" y="1003" text-anchor="start" font-size="9" fill="#111" >1</text>
<text x="1186" y="1003" text-anchor="start" font-size="9" fill="#111" >2</text>
<circle cx="1150" cy="1012" r="2.5" fill="#000"/>
<text x="1166" y="1045" text-anchor="start" font-size="9" fill="#111" >1</text>
<text x="1186" y="1045" text-anchor="start" font-size="9" fill="#111" >2</text>
<circle cx="1150" cy="1054" r="2.5" fill="#000"/>
<text x="1166" y="1106.5" text-anchor="start" font-size="9" fill="#111" >1</text>
<text x="1186" y="1106.5" text-anchor="start" font-size="9" fill="#111" >2</text>
<circle cx="1150" cy="1115.5" r="2.5" fill="#000"/>
<text x="1166" y="1148.5" text-anchor="start" font-size="9" fill="#111" >1</text>
<text x="1186" y="1148.5" text-anchor="start" font-size="9" fill="#111" >2</text>
<circle cx="1150" cy="1157.5" r="2.5" fill="#000"/>
<text x="1163" y="1175" font-size="10" fill="#111" textLength="33" lengthAdjust="spacingAndGlyphs">UNIT</text>
<path d="M991,852.4 H1150 V1172 H991 Z" stroke="#333" stroke-width="1.15" fill="none" />
<path d="M1054,865 H1117 V930 H1054 Z" stroke="#000" stroke-width="1.2" fill="none" />
<text x="1060" y="876" font-size="10" fill="#111" textLength="30" lengthAdjust="spacingAndGlyphs">GROU</text>
<text x="1060" y="910" font-size="10" fill="#111" textLength="20" lengthAdjust="spacingAndGlyphs">WIT</text>
<path d="M1117,867.3 H1150" stroke="#000" stroke-width="1.3" fill="none" />
<path d="M1117,930.3 H1150" stroke="#000" stroke-width="1.3" fill="none" />
<circle cx="1117" cy="867.3" r="3.5" fill="#000"/>
<circle cx="1117" cy="930.3" r="3.5" fill="#000"/>
<path d="M1012,972 V1117" stroke="#000" stroke-width="1.4" fill="none" />
<path d="M1012,972 H1150" stroke="#000" stroke-width="1.4" fill="none" />
<path d="M1012,1013 H1150" stroke="#000" stroke-width="1.4" fill="none" />
<path d="M1012,1056 H1150" stroke="#000" stroke-width="1.4" fill="none" />
<path d="M1012,1117 H1150" stroke="#000" stroke-width="1.4" fill="none" />
<circle cx="1012" cy="1013" r="3" fill="#000"/>
<circle cx="1012" cy="1056" r="3" fill="#000"/>
<circle cx="1047" cy="972" r="16" fill="#d0d0d0" stroke="#555" stroke-width="1.3"/>
<rect x="1044" y="966" width="6" height="14" fill="#222"/>
<circle cx="1098.5" cy="972" r="16" fill="#d0d0d0" stroke="#555" stroke-width="1.3"/>
<rect x="1095.5" y="966" width="6" height="14" fill="#222"/>
<circle cx="1047" cy="1056" r="16" fill="#d0d0d0" stroke="#555" stroke-width="1.3"/>
<rect x="1044" y="1050" width="6" height="14" fill="#222"/>
<circle cx="1098.5" cy="1056" r="16" fill="#d0d0d0" stroke="#555" stroke-width="1.3"/>
<rect x="1095.5" y="1050" width="6" height="14" fill="#222"/>
<circle cx="1047" cy="1117" r="16" fill="#d0d0d0" stroke="#555" stroke-width="1.3"/>
<rect x="1044" y="1111" width="6" height="14" fill="#222"/>
<circle cx="1098.5" cy="1117" r="16" fill="#d0d0d0" stroke="#555" stroke-width="1.3"/>
<rect x="1095.5" y="1111" width="6" height="14" fill="#222"/>
<rect x="1106" y="1153" width="10" height="10" fill="#000"/>
<path d="M1111,1158 H1150" stroke="#000" stroke-width="1.4" fill="none" />
<text x="912" y="861" font-size="12.2" fill="#111" textLength="70" lengthAdjust="spacingAndGlyphs">FRONT LAM</text>
<text x="872" y="877" font-size="12.2" fill="#111" textLength="110" lengthAdjust="spacingAndGlyphs">HEADLAMP CONTR</text>
<text x="827" y="892" font-size="12.2" fill="#111" textLength="155" lengthAdjust="spacingAndGlyphs">REAR LICENSE WITH</text>
<text x="910" y="907" font-size="12.2" fill="#111" textLength="72" lengthAdjust="spacingAndGlyphs">MODULE LE</text>
<text x="875" y="922" font-size="12.2" fill="#111" textLength="107" lengthAdjust="spacingAndGlyphs">TURN SIGNAL</text>
<text x="815" y="938" font-size="12.2" fill="#111" textLength="167" lengthAdjust="spacingAndGlyphs">BUMPER RIGHT REAR LICEN</text>
<text x="872" y="954" font-size="12.2" fill="#111" textLength="110" lengthAdjust="spacingAndGlyphs">CONNECTOR SWIT</text>
<text x="900" y="970" font-size="12.2" fill="#111" textLength="82" lengthAdjust="spacingAndGlyphs">SIDE MARKER</text>
<path d="M1085,1207 H1173 V1327 H1085 Z" stroke="#333" stroke-width="1.2" fill="none" />
<circle cx="1133" cy="1219" r="5" fill="#111"/>
<circle cx="1131" cy="1258" r="15" fill="#c8c8c8" stroke="#555" stroke-width="1.3"/>
<rect x="1127" y="1252" width="8" height="14" fill="#222"/>
<rect x="1114" y="1293" width="12" height="22" fill="#333"/>
<path d="M1131,1261 H1173" stroke="#000" stroke-width="1.3" fill="none" />
<path d="M1098,1303 H1173" stroke="#000" stroke-width="1.3" fill="none" />
<path d="M1133,1219 H1173" stroke="#000" stroke-width="1.3" fill="none" />
<text x="1003" y="1216" font-size="12.2" fill="#111" textLength="75" lengthAdjust="spacingAndGlyphs">STOP BRAKE</text>
<text x="993" y="1232" font-size="12.2" fill="#111" textLength="85" lengthAdjust="spacingAndGlyphs">STANDARD LE</text>
<text x="1048" y="1248" font-size="12.2" fill="#111" textLength="30" lengthAdjust="spacingAndGlyphs">LAM</text>
<path d="M45,1032 H578 V1320" stroke="#eab0bf" stroke-width="2" fill="none" />
<path d="M45,1053 H456 V1325" stroke="#a850e0" stroke-width="3" fill="none" />
<text x="48" y="1024" font-size="12.2" fill="#111" textLength="57" lengthAdjust="spacingAndGlyphs">CONTROL</text>
<text x="48" y="1045" font-size="12.2" fill="#111" textLength="44" lengthAdjust="spacingAndGlyphs">LICENS</text>
<text x="22" y="1036" text-anchor="start" font-size="10" fill="#111" >5</text>
<text x="22" y="1057" text-anchor="start" font-size="10" fill="#111" >6</text>
<text x="480" y="1024" text-anchor="start" font-size="10" fill="#111" >1</text>
<text x="503" y="1024" font-size="12.2" fill="#111" textLength="52" lengthAdjust="spacingAndGlyphs">LEFT</text>
<text x="465" y="1036" font-size="12.2" fill="#111" textLength="60" lengthAdjust="spacingAndGlyphs">SIGNAL</text>
<text x="482" y="1046" font-size="12.2" fill="#111" textLength="38" lengthAdjust="spacingAndGlyphs">RIGHT</text>
<circle cx="512" cy="1062" r="5" fill="#666"/>
<path d="M45,1197.6 H145" stroke="#a850e0" stroke-width="3" fill="none" />
<text x="48" y="1190" font-size="12.2" fill="#111" textLength="47" lengthAdjust="spacingAndGlyphs">SWITCH</text>
<text x="22" y="1202" text-anchor="start" font-size="10" fill="#111" >7</text>
<text x="135" y="1182" font-size="13" fill="#111" textLength="30" lengthAdjust="spacingAndGlyphs">MAR</text>
<text x="135" y="1232" font-size="13" fill="#111" textLength="30" lengthAdjust="spacingAndGlyphs">BRA</text>
<path d="M155,1186 V1222" stroke="#777" stroke-width="1.2" fill="none" />
<path d="M168,1176 H332 V1282" stroke="#a850e0" stroke-width="3" fill="none" />
<path d="M168,1238 H208.8 V1310" stroke="#a850e0" stroke-width="3" fill="none" />
<text transform="translate(322,1258) rotate(-90)" font-size="13.5" fill="#111" textLength="48" lengthAdjust="spacingAndGlyphs">VIO/BLK</text>
<text transform="translate(444,1292) rotate(-90)" font-size="13.5" fill="#111" textLength="47" lengthAdjust="spacingAndGlyphs">VIO/BLK</text>
<text transform="translate(569,1290) rotate(-90)" font-size="13.5" fill="#111" textLength="55" lengthAdjust="spacingAndGlyphs">PNK/WHT</text>
<text transform="translate(202,1278) rotate(-90)" font-size="13.5" fill="#111" textLength="23" lengthAdjust="spacingAndGlyphs">VIO</text>
<path d="M182.5,1308 H232.8 V1418.5 H182.5 Z" stroke="#444" stroke-width="1.4" fill="none" />
<circle cx="192.5" cy="1320" r="4" fill="none" stroke="#666" stroke-width="1.2"/>
<circle cx="222.8" cy="1320" r="4" fill="none" stroke="#666" stroke-width="1.2"/>
<circle cx="192.5" cy="1347" r="4" fill="none" stroke="#666" stroke-width="1.2"/>
<circle cx="222.8" cy="1347" r="4" fill="none" stroke="#666" stroke-width="1.2"/>
<circle cx="192.5" cy="1374" r="4" fill="none" stroke="#666" stroke-width="1.2"/>
<circle cx="222.8" cy="1374" r="4" fill="none" stroke="#666" stroke-width="1.2"/>
<circle cx="192.5" cy="1401" r="4" fill="none" stroke="#666" stroke-width="1.2"/>
<circle cx="222.8" cy="1401" r="4" fill="none" stroke="#666" stroke-width="1.2"/>
<circle cx="208.8" cy="1338" r="4.5" fill="#000"/>
<circle cx="208.8" cy="1380" r="4.5" fill="#000"/>
<path d="M208.8,1308 V1418.5" stroke="#777" stroke-width="1.5" fill="none" />
<path d="M308,1327.6 H356.5 V1437.8 H308 Z" stroke="#444" stroke-width="1.4" fill="none" />
<circle cx="318" cy="1339.6" r="4" fill="none" stroke="#666" stroke-width="1.2"/>
<circle cx="346.5" cy="1339.6" r="4" fill="none" stroke="#666" stroke-width="1.2"/>
<circle cx="318" cy="1366.6" r="4" fill="none" stroke="#666" stroke-width="1.2"/>
<circle cx="346.5" cy="1366.6" r="4" fill="none" stroke="#666" stroke-width="1.2"/>
<circle cx="318" cy="1393.6" r="4" fill="none" stroke="#666" stroke-width="1.2"/>
<circle cx="346.5" cy="1393.6" r="4" fill="none" stroke="#666" stroke-width="1.2"/>
<circle cx="318" cy="1420.6" r="4" fill="none" stroke="#666" stroke-width="1.2"/>
<circle cx="346.5" cy="1420.6" r="4" fill="none" stroke="#666" stroke-width="1.2"/>
<circle cx="331.4" cy="1357.6" r="4.5" fill="#000"/>
<circle cx="331.4" cy="1399.6" r="4.5" fill="#000"/>
<path d="M331.4,1327.6 V1437.8" stroke="#777" stroke-width="1.5" fill="none" />
<path d="M430,1328 H480.3 V1438 H430 Z" stroke="#444" stroke-width="1.4" fill="none" />
<circle cx="440" cy="1340" r="4" fill="none" stroke="#666" stroke-width="1.2"/>
<circle cx="470.3" cy="1340" r="4" fill="none" stroke="#666" stroke-width="1.2"/>
<circle cx="440" cy="1367" r="4" fill="none" stroke="#666" stroke-width="1.2"/>
<circle cx="470.3" cy="1367" r="4" fill="none" stroke="#666" stroke-width="1.2"/>
<circle cx="440" cy="1394" r="4" fill="none" stroke="#666" stroke-width="1.2"/>
<circle cx="470.3" cy="1394" r="4" fill="none" stroke="#666" stroke-width="1.2"/>
<circle cx="440" cy="1421" r="4" fill="none" stroke="#666" stroke-width="1.2"/>
<circle cx="470.3" cy="1421" r="4" fill="none" stroke="#666" stroke-width="1.2"/>
<circle cx="455" cy="1358" r="4.5" fill="#000"/>
<circle cx="455" cy="1400" r="4.5" fill="#000"/>
<path d="M455,1328 V1438" stroke="#777" stroke-width="1.5" fill="none" />
<path d="M555.7,1328 H604 V1438 H555.7 Z" stroke="#444" stroke-width="1.4" fill="none" />
<circle cx="565.7" cy="1340" r="4" fill="none" stroke="#666" stroke-width="1.2"/>
<circle cx="594" cy="1340" r="4" fill="none" stroke="#666" stroke-width="1.2"/>
<circle cx="565.7" cy="1367" r="4" fill="none" stroke="#666" stroke-width="1.2"/>
<circle cx="594" cy="1367" r="4" fill="none" stroke="#666" stroke-width="1.2"/>
<circle cx="565.7" cy="1394" r="4" fill="none" stroke="#666" stroke-width="1.2"/>
<circle cx="594" cy="1394" r="4" fill="none" stroke="#666" stroke-width="1.2"/>
<circle cx="565.7" cy="1421" r="4" fill="none" stroke="#666" stroke-width="1.2"/>
<circle cx="594" cy="1421" r="4" fill="none" stroke="#666" stroke-width="1.2"/>
<circle cx="579" cy="1358" r="4.5" fill="#000"/>
<circle cx="579" cy="1400" r="4.5" fill="#000"/>
<path d="M579,1328 V1438" stroke="#777" stroke-width="1.5" fill="none" />
<path d="M308,1327.6 V1500" stroke="#555" stroke-width="2.6" fill="none" />
<text x="225" y="1317" font-size="12.2" fill="#111" textLength="60" lengthAdjust="spacingAndGlyphs">LED</text>
<text x="225" y="1334" font-size="12.2" fill="#111" textLength="45" lengthAdjust="spacingAndGlyphs">UNIT SI</text>
<text x="225" y="1349" font-size="12.2" fill="#111" textLength="40" lengthAdjust="spacingAndGlyphs">GROU</text>
<text x="355" y="1339" font-size="12.2" fill="#111" textLength="53" lengthAdjust="spacingAndGlyphs">WITH</text>
<text x="355" y="1354" font-size="12.2" fill="#111" textLength="45" lengthAdjust="spacingAndGlyphs">FRONT</text>
<text x="355" y="1370" font-size="12.2" fill="#111" textLength="37" lengthAdjust="spacingAndGlyphs">HEAD</text>
<text x="458" y="1339" font-size="12.2" fill="#111" textLength="77" lengthAdjust="spacingAndGlyphs">REAR LICEN</text>
<text x="458" y="1354" font-size="12.2" fill="#111" textLength="77" lengthAdjust="spacingAndGlyphs">MODULE LEF</text>
<text x="458" y="1370" font-size="12.2" fill="#111" textLength="62" lengthAdjust="spacingAndGlyphs">TURN SIG</text>
<text x="458" y="1386" font-size="12.2" fill="#111" textLength="42" lengthAdjust="spacingAndGlyphs">BUMPE</text>
<text x="590" y="1339" font-size="12.2" fill="#111" textLength="110" lengthAdjust="spacingAndGlyphs">CONNECTOR SWIT</text>
<text x="590" y="1354" font-size="12.2" fill="#111" textLength="115" lengthAdjust="spacingAndGlyphs">SIDE MARKER TURN</text>
<text x="590" y="1370" font-size="12.2" fill="#111" textLength="110" lengthAdjust="spacingAndGlyphs">STOP BRAKE BUM</text>
<text x="590" y="1386" font-size="12.2" fill="#111" textLength="115" lengthAdjust="spacingAndGlyphs">STANDARD LED</text>
<path d="M208.8,1418.5 V1778" stroke="#b8b27a" stroke-width="3" fill="none" />
<path d="M331.4,1437.8 V1500" stroke="#888" stroke-width="3" fill="none" />
<path d="M332,1282 V1327.6" stroke="#666" stroke-width="2" fill="none" />
<path d="M331.4,1500 V1758" stroke="#b8b27a" stroke-width="3" fill="none" />
<path d="M455,1438 V1673 H579" stroke="#b8b27a" stroke-width="3" fill="none" />
<path d="M579,1438 V1778" stroke="#b8b27a" stroke-width="3" fill="none" />
<text transform="translate(182.7,1470) rotate(-90)" font-size="13.5" fill="#111" textLength="30" lengthAdjust="spacingAndGlyphs">BRN/WHT</text>
<text transform="translate(214,1545) rotate(-90)" font-size="13.5" fill="#111" textLength="55" lengthAdjust="spacingAndGlyphs">BRN/WHT</text>
<text transform="translate(196,1600) rotate(-90)" font-size="13.5" fill="#111" textLength="55" lengthAdjust="spacingAndGlyphs">BRN/WHT</text>
<text transform="translate(214,1650) rotate(-90)" font-size="13.5" fill="#111" textLength="50" lengthAdjust="spacingAndGlyphs">BRN/WHT</text>
<text transform="translate(182,1700) rotate(-90)" font-size="13.5" fill="#111" textLength="35" lengthAdjust="spacingAndGlyphs">BRN/WHT</text>
<text transform="translate(182,1760) rotate(-90)" font-size="13.5" fill="#111" textLength="30" lengthAdjust="spacingAndGlyphs">BRN/WHT</text>
<text transform="translate(322,1480) rotate(-90)" font-size="13.5" fill="#111" textLength="30" lengthAdjust="spacingAndGlyphs">BRN/WHT</text>
<text transform="translate(322,1600) rotate(-90)" font-size="13.5" fill="#111" textLength="55" lengthAdjust="spacingAndGlyphs">BRN/WHT</text>
<text transform="translate(322,1720) rotate(-90)" font-size="13.5" fill="#111" textLength="50" lengthAdjust="spacingAndGlyphs">BRN/WHT</text>
<text transform="translate(441,1530) rotate(-90)" font-size="13.5" fill="#111" textLength="60" lengthAdjust="spacingAndGlyphs">BRN/WHT</text>
<text transform="translate(432,1555) rotate(-90)" font-size="13.5" fill="#111" textLength="30" lengthAdjust="spacingAndGlyphs">BRN/WHT</text>
<text transform="translate(569,1530) rotate(-90)" font-size="13.5" fill="#111" textLength="60" lengthAdjust="spacingAndGlyphs">BRN/WHT</text>
<text transform="translate(587,1570) rotate(-90)" font-size="13.5" fill="#111" textLength="50" lengthAdjust="spacingAndGlyphs">BRN/WHT</text>
<text transform="translate(544,1650) rotate(-90)" font-size="13.5" fill="#111" textLength="60" lengthAdjust="spacingAndGlyphs">BRN/WHT</text>
<text transform="translate(559,1780) rotate(-90)" font-size="13.5" fill="#111" textLength="80" lengthAdjust="spacingAndGlyphs">BRN/WHT</text>
<circle cx="236" cy="1522" r="6" fill="none" stroke="#555" stroke-width="1.3"/>
<circle cx="236" cy="1610" r="6" fill="none" stroke="#555" stroke-width="1.3"/>
<circle cx="592" cy="1535" r="6" fill="none" stroke="#555" stroke-width="1.3"/>
<circle cx="208.8" cy="1715.6" r="4.5" fill="#000"/>
<circle cx="331.4" cy="1652" r="4.5" fill="#000"/>
<circle cx="579" cy="1673" r="4.5" fill="#000"/>
<rect x="202.8" y="1772" width="12" height="10" fill="#111"/>
<rect x="325.4" y="1752" width="12" height="10" fill="#111"/>
<rect x="573" y="1772" width="12" height="10" fill="#111"/>
<text x="193.8" y="1798" font-size="12.2" fill="#111" textLength="30.0" lengthAdjust="spacingAndGlyphs">LAM</text>
<text x="173.8" y="1813" font-size="12.2" fill="#111" textLength="70.0" lengthAdjust="spacingAndGlyphs">CONTROL</text>
<text x="167.8" y="1828" font-size="12.2" fill="#111" textLength="82.0" lengthAdjust="spacingAndGlyphs">LICENSE WITH</text>
<text x="178.8" y="1843" font-size="12.2" fill="#111" textLength="60.0" lengthAdjust="spacingAndGlyphs">LEFT FRO</text>
<text x="316.4" y="1779" font-size="12.2" fill="#111" textLength="30.0" lengthAdjust="spacingAndGlyphs">SIGN</text>
<text x="295.4" y="1794" font-size="12.2" fill="#111" textLength="72.0" lengthAdjust="spacingAndGlyphs">RIGHT REAR</text>
<text x="291.4" y="1809" font-size="12.2" fill="#111" textLength="80.0" lengthAdjust="spacingAndGlyphs">SWITCH MOD</text>
<text x="306.4" y="1824" font-size="12.2" fill="#111" textLength="50.0" lengthAdjust="spacingAndGlyphs">MARKER</text>
<text x="564.0" y="1800" font-size="12.2" fill="#111" textLength="30.0" lengthAdjust="spacingAndGlyphs">BRA</text>
<text x="529.0" y="1818" font-size="12.2" fill="#111" textLength="100.0" lengthAdjust="spacingAndGlyphs">LED CONNECTOR</text>
<text x="523.0" y="1834" font-size="12.2" fill="#111" textLength="112.0" lengthAdjust="spacingAndGlyphs">UNIT SIDE MARKER</text>
<circle cx="867.7" cy="1466.9" r="7.5" fill="none" stroke="#222" stroke-width="1.3"/>
<text x="867.7" y="1470.9" text-anchor="middle" font-size="11" fill="#111" >1</text>
<text x="886" y="1471.3000000000002" font-size="12.2" fill="#111" textLength="169.8" lengthAdjust="spacingAndGlyphs">GROUND STOP BRAKE BUMP</text>
<circle cx="867.7" cy="1486.8" r="7.5" fill="none" stroke="#222" stroke-width="1.3"/>
<text x="867.7" y="1490.8" text-anchor="middle" font-size="11" fill="#111" >2</text>
<text x="886" y="1491.2" font-size="12.2" fill="#111" textLength="184" lengthAdjust="spacingAndGlyphs">WITH STANDARD LED CONNEC</text>
<circle cx="867.7" cy="1508.5" r="7.5" fill="none" stroke="#222" stroke-width="1.3"/>
<text x="867.7" y="1512.5" text-anchor="middle" font-size="11" fill="#111" >3</text>
<text x="886" y="1512.9" font-size="12.2" fill="#111" textLength="107" lengthAdjust="spacingAndGlyphs">FRONT LAMP UNIT</text>
<circle cx="867.7" cy="1530" r="7.5" fill="none" stroke="#222" stroke-width="1.3"/>
<text x="867.7" y="1534" text-anchor="middle" font-size="11" fill="#111" >4</text>
<text x="886" y="1534.4" font-size="12.2" fill="#111" textLength="144" lengthAdjust="spacingAndGlyphs">HEADLAMP CONTROL</text>
<circle cx="867.7" cy="1551" r="7.5" fill="none" stroke="#222" stroke-width="1.3"/>
<text x="867.7" y="1555" text-anchor="middle" font-size="11" fill="#111" >5</text>
<text x="886" y="1555.4" font-size="12.2" fill="#111" textLength="84" lengthAdjust="spacingAndGlyphs">REAR LICENSE</text>
<text x="15" y="1847" font-size="10" fill="#111" textLength="100" lengthAdjust="spacingAndGlyphs">MODULE LEFT FRONT</text>
<rect x="0" y="0" width="1500" height="2.6" fill="#000"/>
<rect x="0" y="0" width="2.8" height="558" fill="#000"/>
<rect x="1497" y="0" width="3" height="558" fill="#000"/>
</svg>
<div id="blur"></div>
<div style="position:absolute;left:0;top:558px;width:10px;height:1303px;background:linear-gradient(to right,rgba(0,0,0,.5) 0,rgba(0,0,0,.5) 3.5px,rgba(0,0,0,.22) 5px,rgba(0,0,0,.12) 7px,rgba(0,0,0,0) 9px)"></div>
<div style="position:absolute;right:0;top:558px;width:10px;height:1303px;background:linear-gradient(to left,rgba(0,0,0,.5) 0,rgba(0,0,0,.5) 3px,rgba(0,0,0,.25) 5px,rgba(0,0,0,.08) 7px,rgba(0,0,0,0) 9px)"></div>
<div style="position:absolute;left:0;bottom:0;width:1500px;height:10px;background:linear-gradient(to top,rgba(0,0,0,.55) 0,rgba(0,0,0,.55) 3px,rgba(0,0,0,.3) 5px,rgba(0,0,0,.1) 7px,rgba(0,0,0,0) 9px)"></div>
</body></html>
